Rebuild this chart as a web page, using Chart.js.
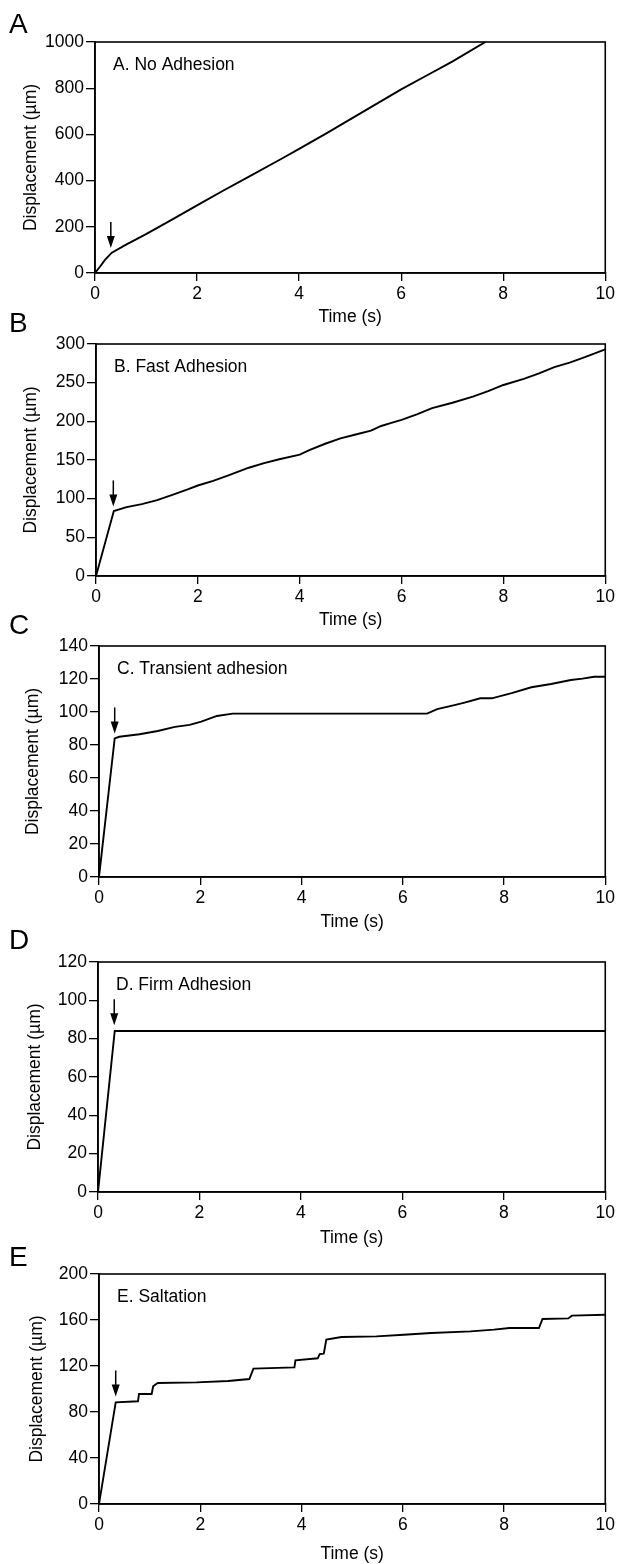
<!DOCTYPE html>
<html><head><meta charset="utf-8">
<script src="https://cdn.jsdelivr.net/npm/chart.js@4.4.1/dist/chart.umd.min.js"></script>
<style>
html,body{margin:0;padding:0;background:#fff;}
body{width:618px;height:1564px;position:relative;overflow:hidden;font-family:"Liberation Sans",Arial,sans-serif;}
canvas{position:absolute;left:0;}
.letter{position:absolute;left:9px;font-size:28px;line-height:28px;color:#000;font-family:"Liberation Sans",Arial,sans-serif;}
</style></head>
<body>
<script>
// ---------- DATA ----------
const panelLetters = ["A", "B", "C", "D", "E"];
const panelTitles = ["A. No Adhesion", "B. Fast Adhesion", "C. Transient adhesion", "D. Firm Adhesion", "E. Saltation"];
const xTitle = "Time (s)";
const yTitle = "Displacement (\u00b5m)";
const xTickValues = [0, 2, 4, 6, 8, 10];
const yMax = [1000, 300, 140, 120, 200];
const yStep = [200, 50, 20, 20, 40];

const timeA = [0, 0.1, 0.2, 0.33, 0.6, 1.0, 1.5, 2.0, 2.5, 3.0, 3.7, 4.0, 4.5, 5.0, 5.5, 6.0, 6.5, 7.0, 7.65];
const dispA = [0, 28, 58, 88, 122, 168, 230, 293, 355, 415, 500, 537, 600, 665, 730, 795, 855, 915, 1000];

const timeB = [0, 0.35, 0.6, 0.9, 1.2, 1.5, 1.8, 2.0, 2.3, 2.6, 3.0, 3.3, 3.6, 4.0, 4.2, 4.5, 4.8, 5.1, 5.4, 5.6, 5.8, 6.0, 6.3, 6.6, 7.0, 7.4, 7.7, 8.0, 8.4, 8.7, 9.0, 9.3, 9.6, 10];
const dispB = [0, 84, 89, 93, 98, 105, 112, 117, 123, 130, 140, 146, 151, 157, 163, 171, 178, 183, 188, 194, 198, 202, 209, 217, 224, 232, 239, 247, 255, 262, 270, 276, 283, 293];

const timeC = [0, 0.31, 0.4, 0.8, 1.16, 1.5, 1.79, 2.02, 2.33, 2.64, 4, 5, 6.48, 6.68, 7.0, 7.22, 7.53, 7.76, 8.15, 8.54, 8.93, 9.32, 9.55, 9.78, 10];
const dispC = [0, 84, 85, 86.5, 88.5, 91, 92.2, 94.2, 97.6, 99, 99, 99, 99, 101.7, 104, 105.7, 108.3, 108.3, 111.4, 115, 117, 119.4, 120.2, 121.4, 121.4];

const timeD = [0, 0.33, 10];
const dispD = [0, 84, 84];

const timeE = [0, 0.33, 0.77, 0.79, 1.04, 1.07, 1.16, 1.93, 2.55, 2.97, 3.05, 3.86, 3.88, 4.32, 4.36, 4.44, 4.49, 4.79, 5.48, 6.02, 6.56, 7.34, 7.80, 8.11, 8.69, 8.76, 9.27, 9.34, 10];
const dispE = [0, 88.4, 89.3, 95.7, 95.7, 102.3, 105.2, 105.8, 107, 108.7, 117.7, 118.8, 124.9, 126.7, 130.4, 130.7, 142.9, 145.2, 145.8, 147.2, 148.7, 150.1, 151.6, 153, 153, 160.9, 161.4, 163.8, 164.6];

// arrow marking the transition (time, displacement of arrow tip)
const arrowTime = [0.31, 0.34, 0.31, 0.32, 0.33];
const arrowTipDisp = [108, 90, 87, 87, 93.5];

const seriesTimes = [timeA, timeB, timeC, timeD, timeE];
const seriesDisps = [dispA, dispB, dispC, dispD, dispE];

// ---------- LAYOUT (page pixels) ----------
const layoutCfg = [
  {top: 0,    plotTop: 42,   plotBottom: 273,  left: 95, right: 608, titleC: 317,  yTitleX: 31, letterY: 24},
  {top: 327,  plotTop: 344,  plotBottom: 576,  left: 96, right: 608, titleC: 620,  yTitleX: 31, letterY: 323},
  {top: 630,  plotTop: 646,  plotBottom: 877,  left: 99, right: 609, titleC: 922,  yTitleX: 33, letterY: 625},
  {top: 932,  plotTop: 962,  plotBottom: 1192, left: 98, right: 610, titleC: 1238, yTitleX: 35, letterY: 940},
  {top: 1248, plotTop: 1274, plotBottom: 1504, left: 99, right: 611, titleC: 1554, yTitleX: 37, letterY: 1257}
];

const FONT = '"Liberation Sans", Arial, sans-serif';
const FS = 17.5;
const TFS = 17.5;

const framePlugin = {
  id: 'frameAndNotes',
  afterDatasetsDraw(chart, args, opts) {
    const ctx = chart.ctx;
    const a = chart.chartArea;
    const xs = chart.scales.x, ys = chart.scales.y;
    ctx.save();
    ctx.strokeStyle = '#000';
    ctx.lineWidth = 1.6;
    ctx.strokeRect(a.left, a.top, a.right - a.left, a.bottom - a.top);
    ctx.fillStyle = '#000';
    ctx.font = FS + 'px ' + FONT;
    ctx.textBaseline = 'middle';
    ctx.textAlign = 'left';
    ctx.fillText(opts.label, a.left + 18, a.top + 23);
    const ax = xs.getPixelForValue(opts.arrowT);
    const tipY = ys.getPixelForValue(opts.arrowY);
    const len = 26;
    ctx.lineWidth = 1.5;
    ctx.beginPath();
    ctx.moveTo(ax, tipY - len);
    ctx.lineTo(ax, tipY - 8);
    ctx.stroke();
    ctx.beginPath();
    ctx.moveTo(ax, tipY);
    ctx.lineTo(ax - 4, tipY - 12);
    ctx.lineTo(ax + 4, tipY - 12);
    ctx.closePath();
    ctx.fill();
    ctx.restore();
  }
};

panelLetters.forEach((letter, i) => {
  const L = layoutCfg[i];
  const H = Math.round(L.titleC + FS * 0.6 - L.top);
  const cv = document.createElement('canvas');
  cv.width = 618; cv.height = H;
  cv.style.top = L.top + 'px';
  cv.style.width = '618px'; cv.style.height = H + 'px';
  document.body.appendChild(cv);

  const d = document.createElement('div');
  d.className = 'letter';
  d.textContent = letter;
  d.style.top = (L.letterY - 14) + 'px';
  document.body.appendChild(d);

  const pts = seriesTimes[i].map((t, k) => ({x: t, y: seriesDisps[i][k]}));
  const xAxisH = H - (L.plotBottom - L.top);

  new Chart(cv, {
    type: 'line',
    data: {
      datasets: [{
        data: pts,
        borderColor: '#000',
        borderWidth: 1.9,
        pointRadius: 0,
        tension: 0,
        fill: false
      }]
    },
    options: {
      responsive: false,
      animation: false,
      devicePixelRatio: 1,
      layout: {padding: {top: L.plotTop - L.top, right: 618 - L.right, left: 0, bottom: 0}},
      plugins: {
        legend: {display: false},
        tooltip: {enabled: false},
        frameAndNotes: {label: panelTitles[i], arrowT: arrowTime[i], arrowY: arrowTipDisp[i]}
      },
      scales: {
        x: {
          type: 'linear', min: 0, max: 10,
          afterBuildTicks: s => { s.ticks = xTickValues.map(v => ({value: v})); },
          afterFit: s => { s.height = xAxisH; },
          ticks: {color: '#000', font: {family: FONT, size: TFS}, padding: 3, maxRotation: 0, callback: v => String(v)},
          grid: {display: true, drawOnChartArea: false, drawTicks: true, tickLength: 8, color: '#000', lineWidth: 1.3},
          border: {display: true, color: '#000', width: 1.6},
          title: {display: true, text: xTitle, color: '#000', font: {family: FONT, size: FS}, padding: {top: 0, bottom: 0}}
        },
        y: {
          type: 'linear', min: 0, max: yMax[i],
          ticks: {stepSize: yStep[i], color: '#000', font: {family: FONT, size: TFS}, padding: 2, callback: v => String(v)},
          afterFit: s => { s.width = L.left; },
          grid: {display: true, drawOnChartArea: false, drawTicks: true, tickLength: 9, color: '#000', lineWidth: 1.3},
          border: {display: true, color: '#000', width: 1.6},
          title: {display: true, text: yTitle, color: '#000', font: {family: FONT, size: FS}, padding: {top: L.yTitleX - FS * 0.6, bottom: 0}}
        }
      }
    },
    plugins: [framePlugin]
  });
});
</script>
</body></html>
